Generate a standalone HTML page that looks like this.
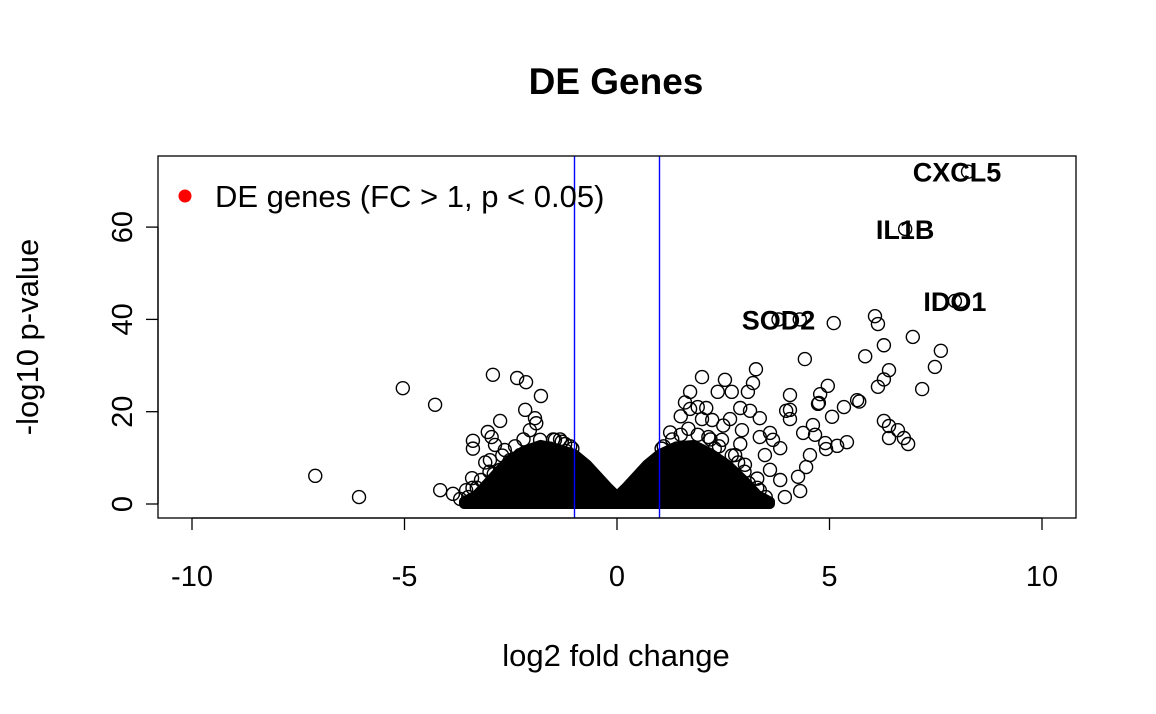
<!DOCTYPE html>
<html><head><meta charset="utf-8"><style>
html,body{margin:0;padding:0;background:#fff}
svg{display:block;font-family:"Liberation Sans",Arial,sans-serif}
</style></head><body>
<svg id="chart" width="1156" height="714" viewBox="0 0 1156 714">
<rect width="1156" height="714" fill="#fff"/>
<text x="616" y="94" text-anchor="middle" font-size="37" font-weight="bold">DE Genes</text>
<text x="616" y="666" text-anchor="middle" font-size="31">log2 fold change</text>
<text transform="translate(38,337) rotate(-90)" text-anchor="middle" font-size="31">-log10 p-value</text>
<g id="marks"></g>
<rect x="158" y="156" width="918" height="362" fill="none" stroke="#000" stroke-width="1.3"/>
<g id="axes"></g>
<g>
<circle cx="185" cy="196" r="6.5" fill="#f00"/>
<text x="215" y="207" font-size="31">DE genes (FC &gt; 1, p &lt; 0.05)</text>
</g>
</svg>
<script>
const xTicks=[-10,-5,0,5,10];
const yTicks=[0,20,40,60];
const thresholds=[-1,1];
// dense core envelope (log2FC, -log10p)
const coreX=[-3.6,-3.3,-3,-2.6,-2.2,-1.8,-1.4,-1,-0.7,-0.4,-0.2,0,0.2,0.4,0.7,1,1.4,1.8,2.2,2.6,3,3.3,3.6];
const coreY=[0.5,2,5,9,11.5,12.8,12,10.8,8.5,5.5,3.5,1.7,3.5,5.5,8.5,10.8,12.5,12.8,11,8.5,5,2,0.5];
const ptX=[8.26,6.78,7.95,8.1,3.8,4.3,6.07,6.14,5.1,6.96,7.62,5.84,6.28,4.42,6.4,6.28,7.48,7.18,6.14,3.27,3.2,4.96,4.78,5.65,5.7,5.34,4.73,4.75,4.07,3.98,4.07,4.61,5.06,6.28,6.4,6.61,6.75,6.85,6.4,5.41,5.18,4.92,4.9,4.54,4.45,3.84,3.6,3.36,3.67,4.31,4.26,3.95,3.36,3.3,2,2.54,2.7,2.37,3.08,2.9,1.72,2.1,2.24,3.36,2.94,2.66,3.13,2.47,2.78,3.01,2.0,1.72,1.68,3.48,3.6,3.2,3.84,4.07,4.38,4.66,2.2,2.5,2.9,1.9,1.6,1.5,2.3,
-7.1,-6.07,-5.04,-4.28,-4.16,-3.86,-3.69,-3.55,-3.41,-3.39,-3.39,-3.04,-2.95,-2.75,-2.92,-2.35,-2.14,-1.79,-2.16,-1.93,-1.9,-2.05,-2.99,-3.1,-2.75,-2.8,-3.2,-2.52,-2.4,-2.28,-2.64,-2.87,-1.81,-1.7,-1.46,-1.34,-1.58,-1.22,-3.3,-2.6,-2.2,-1.6,
-1.1,-1.3,-1.5,-2.4,-2.7,-3.0,-3.4,-3.5,-2.9,-1.2,1.1,1.3,1.5,1.25,2.4,2.7,3.0,3.3,3.5,2.85,3.1,1.9,2.15,1.05,-1.05];
const ptY=[72,59.6,44,44,40,40,40.7,39,39.2,36.2,33.2,32,34.4,31.4,29,27,29.7,24.9,25.4,29.2,26.2,25.6,23.8,22.5,22.2,21,21.7,21.9,23.6,20.2,20.4,17.1,18.9,18,16.9,16,14.3,13,14.3,13.4,12.6,11.9,13.2,10.6,8,12.1,15.4,14.5,13.9,2.8,5.9,1.5,3,5.5,27.5,26.9,24.3,24.3,24.3,20.8,24.3,20.8,18.2,18.6,16,18.4,20.2,13.9,10.6,8.5,18.4,20.6,16.3,10.6,7.4,1.9,5.2,18.4,15.4,15,14,17,13,21,22,19,12,
6.1,1.5,25.1,21.5,3,2.2,1.1,3,5.6,13.7,12,15.6,14.5,18,28,27.3,26.4,23.4,20.4,18.6,17.5,16,9.5,9,7.4,4.1,5.2,9.5,7.4,10.6,11.7,12.8,13.9,10.6,13.9,14,12,13,3.5,3,14,9,
12.5,13.5,14,12.5,10.5,7,3.5,1.5,6.5,11.5,12.5,14,15,15.5,12.5,10.5,7,3.5,1.5,9,4.5,15,14.5,12,12];
const X0=158,X1=1076,Y0=156,Y1=518;
const sx=v=>617+v*42.5, sy=v=>504-v*4.615;
const NS='http://www.w3.org/2000/svg';
function mk(t,a,p){const e=document.createElementNS(NS,t);for(const k in a)e.setAttribute(k,a[k]);p.appendChild(e);return e;}
const marks=document.getElementById('marks'),axes=document.getElementById('axes');
let d='M'+sx(coreX[0])+','+sy(0);
coreX.forEach((x,i)=>{d+=' L'+sx(x)+','+sy(coreY[i]);});
d+=' L'+sx(coreX[coreX.length-1])+','+sy(0)+' Z';
const core=mk('path',{d:d,fill:'#000',stroke:'#000','stroke-width':10,'stroke-linejoin':'round'},marks);


ptX.forEach((x,i)=>{
 const c=mk('circle',{cx:sx(x),cy:sy(ptY[i]),r:6.5,fill:'none',stroke:'#000','stroke-width':1.4},marks);
 
 
});
thresholds.forEach(t=>{
 const l=mk('line',{x1:sx(t),x2:sx(t),y1:Y0,y2:Y1,stroke:'#00f','stroke-width':1.4},marks);
 
 
});
const labels=[["CXCL5",8.0,72],["IL1B",6.78,59.6],["IDO1",7.95,44],["SOD2",3.8,40]];
labels.forEach(([n,x,y])=>{
 const t=mk('text',{x:sx(x),y:sy(y)+10,'text-anchor':'middle','font-size':27,'font-weight':'bold'},marks);
 t.textContent=n;
 
 
});
mk('line',{x1:sx(xTicks[0]),x2:sx(xTicks[xTicks.length-1]),y1:Y1,y2:Y1,stroke:'#000','stroke-width':1.3},axes);
xTicks.forEach(v=>{
 mk('line',{x1:sx(v),x2:sx(v),y1:Y1,y2:Y1+12,stroke:'#000','stroke-width':1.3},axes);
 const t=mk('text',{x:sx(v),y:586,'text-anchor':'middle','font-size':29},axes);
 t.textContent=v;
 
 
});
mk('line',{x1:X0,x2:X0,y1:sy(yTicks[0]),y2:sy(yTicks[yTicks.length-1]),stroke:'#000','stroke-width':1.3},axes);
yTicks.forEach(v=>{
 mk('line',{x1:X0-12,x2:X0,y1:sy(v),y2:sy(v),stroke:'#000','stroke-width':1.3},axes);
 const t=mk('text',{transform:'translate(132,'+sy(v)+') rotate(-90)','text-anchor':'middle','font-size':29},axes);
 t.textContent=v;
 
 
});
</script>
</body></html>
